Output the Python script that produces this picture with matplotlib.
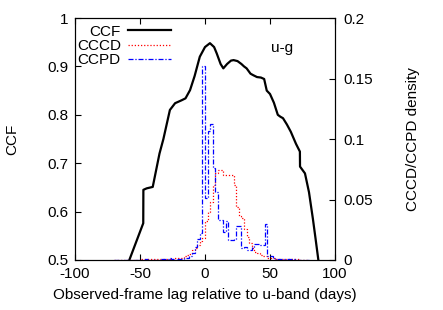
import numpy as np
import matplotlib
matplotlib.use('Agg')
import matplotlib.pyplot as plt
from matplotlib.lines import Line2D

plt.rcParams['font.family'] = 'Liberation Sans'
plt.rcParams['font.size'] = 11
plt.rcParams['xtick.direction'] = 'in'
plt.rcParams['ytick.direction'] = 'in'
plt.rcParams['xtick.major.size'] = 4
plt.rcParams['ytick.major.size'] = 4

# CCF (black curve)
ccf_lag = [-58.2, -47.5, -47.4, -44.9, -40.2, -35, -32, -27, -23, -18, -15, -11.5,
           -8, -4, 0, 3.8, 7, 9, 12, 14.1, 17, 20, 22, 25, 28, 30, 32, 35, 37, 40,
           43, 45.5, 47.5, 50, 53, 56, 58, 60, 63, 66, 70, 73, 73.1, 76.9, 80,
           83, 85, 87.2]
ccf_val = [0.5, 0.576, 0.645, 0.648, 0.651, 0.72, 0.75, 0.81, 0.824, 0.83, 0.834, 0.851,
           0.88, 0.92, 0.94, 0.948, 0.94, 0.927, 0.905, 0.896, 0.905, 0.912, 0.913, 0.911,
           0.905, 0.900, 0.896, 0.885, 0.882, 0.878, 0.877, 0.874, 0.85, 0.843, 0.825,
           0.80, 0.796, 0.793, 0.78, 0.765, 0.740, 0.724, 0.693, 0.679, 0.64,
           0.585, 0.545, 0.5]

# histogram bins, 2 days wide, from -70 to 80
lag_edges = np.arange(-70, 82, 2)

cccd = [0.0003, 0.0003, 0.0003, 0.0003, 0.0003, 0.0003, 0.0004, 0.0004, 0.0004, 0.0004,
        0.0005, 0.0005, 0.0005, 0.0005, 0.0005, 0.0006, 0.0006, 0.0007, 0.0007, 0.0008,
        0.0008, 0.001, 0.001, 0.0014, 0.0014, 0.0014, 0.002, 0.003, 0.004, 0.005,
        0.008, 0.010, 0.012, 0.016, 0.018, 0.032, 0.040, 0.048, 0.062, 0.072,
        0.074, 0.074, 0.070, 0.070, 0.070, 0.070, 0.062, 0.044, 0.036, 0.035,
        0.026, 0.019, 0.014, 0.010, 0.007, 0.0055, 0.004, 0.003, 0.003, 0.002,
        0.0014, 0.0014, 0.0012, 0.001, 0.001, 0.0008, 0.0008, 0.0006, 0.0006, 0.0005,
        0.0005, 0.0004, 0.0003, 0.0003, 0.0003]

ccpd = [0, 0, 0, 0, 0, 0, 0, 0, 0, 0,
        0, 0, 0.0005, 0, 0, 0, 0, 0, 0.0005, 0.0005,
        0.001, 0.002, 0.001, 0, 0.0005, 0.001, 0.001, 0.002, 0.0014, 0.003,
        0.0055, 0.011, 0.017, 0.022, 0.160, 0.051, 0.107, 0.112, 0.076, 0.056,
        0.033, 0.033, 0.023, 0.032, 0.0165, 0.0165, 0.017, 0.028, 0.028, 0.0097,
        0.011, 0.008, 0.008, 0.011, 0.013, 0.013, 0.012, 0.012, 0.030, 0.003,
        0.003, 0.002, 0.001, 0.001, 0.0005, 0.001, 0.0005, 0.001, 0.0005, 0.0005,
        0, 0, 0, 0, 0]

xticks = [-100, -50, 0, 50, 100]
yticks = [0.5, 0.6, 0.7, 0.8, 0.9, 1.0]
yticklabels = ['0.5', '0.6', '0.7', '0.8', '0.9', '1']
y2ticks = [0, 0.05, 0.1, 0.15, 0.2]
y2ticklabels = ['0', '0.05', '0.1', '0.15', '0.2']

fig = plt.figure(figsize=(4.43, 3.10), dpi=100)
ax = fig.add_axes([0.1693, 0.1613, 0.5869, 0.7806])
ax2 = ax.twinx()

ax.plot(ccf_lag, ccf_val, color='black', lw=1.6, zorder=3)
ax2.stairs(cccd, lag_edges, color='red', lw=0.9, linestyle=(0, (1, 1.5)))
ax2.stairs(ccpd, lag_edges, color='blue', lw=0.9, linestyle=(0, (4, 1.5, 1, 1.5)))

ax.set_xlim(-100, 100)
ax.set_ylim(0.5, 1.0)
ax2.set_ylim(0, 0.2)
ax.set_xticks(xticks)
ax.set_xticklabels([str(t) for t in xticks])
ax.set_yticks(yticks)
ax.set_yticklabels(yticklabels)
ax2.set_yticks(y2ticks)
ax2.set_yticklabels(y2ticklabels)
ax.tick_params(axis='x', top=True, pad=5)
ax.tick_params(axis='y', pad=5)
ax2.tick_params(axis='y', pad=6)

ax.set_xlabel('Observed-frame lag relative to u-band (days)', labelpad=5)
ax.set_ylabel('CCF', labelpad=20)
ax2.set_ylabel('CCCD/CCPD density', labelpad=24)

ax.text(0.795, 0.876, 'u-g', transform=ax.transAxes, ha='center', va='center')

h1 = Line2D([], [], color='black', lw=1.6)
h2 = Line2D([], [], color='red', lw=0.9, linestyle=(0, (1, 1.5)))
h3 = Line2D([], [], color='blue', lw=0.9, linestyle=(0, (4, 1.5, 1, 1.5)))
ax.legend([h1, h2, h3], ['CCF', 'CCCD', 'CCPD'], loc='upper left',
          bbox_to_anchor=(-0.005, 0.985), frameon=False, markerfirst=False,
          handlelength=2.8, handletextpad=0.5, labelspacing=0.02,
          borderpad=0.2, borderaxespad=0, fontsize=11)

fig.savefig('out.png', dpi=100)
